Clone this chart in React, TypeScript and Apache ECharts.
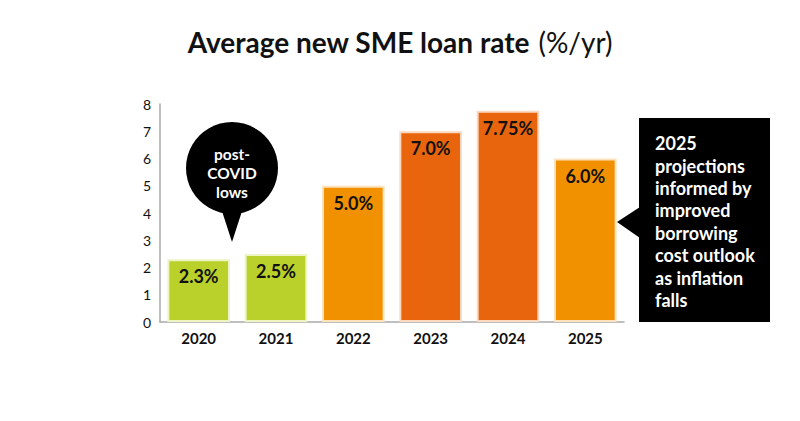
import { useEffect, useRef } from "react";
import * as echarts from "echarts";

const years = ["2020", "2021", "2022", "2023", "2024", "2025"];
const rates = [2.3, 2.5, 5.0, 7.0, 7.75, 6.0];
const rateLabels = ["2.3%", "2.5%", "5.0%", "7.0%", "7.75%", "6.0%"];
const barColors = ["#b9d12a", "#b9d12a", "#f29100", "#e9650d", "#e9650d", "#f29100"];
const borderColors = ["#eef4c4", "#eef4c4", "#fde3bd", "#fbd9c0", "#fbd9c0", "#fde3bd"];
const bubbleLines = ["post-", "COVID", "lows"];
const calloutLines = [
  "2025",
  "projections",
  "informed by",
  "improved",
  "borrowing",
  "cost outlook",
  "as inflation",
  "falls",
];

const FONT = "Lato, 'Open Sans', sans-serif";

export default function App() {
  const ref = useRef<HTMLDivElement>(null);

  useEffect(() => {
    if (!ref.current) return;
    const chart = echarts.init(ref.current, null, { renderer: "svg" });

    chart.setOption({
      animation: false,
      textStyle: { fontFamily: FONT },
      title: {
        text: "{b|Average new SME loan rate}  {r|(%/yr)}",
        left: "center",
        top: 28,
        padding: 0,
        textStyle: {
          rich: {
            b: { fontSize: 28, fontWeight: "bold", color: "#111", fontFamily: FONT },
            r: { fontSize: 28, fontWeight: "normal", color: "#111", fontFamily: FONT },
          },
        },
      },
      grid: { left: 160, right: 176, top: 104, bottom: 99 },
      xAxis: {
        type: "category",
        data: years,
        axisLine: { lineStyle: { color: "#aaa", width: 1.5 } },
        axisTick: { show: false },
        axisLabel: { color: "#111", fontSize: 15, fontWeight: "bold", margin: 8 },
      },
      yAxis: {
        type: "value",
        min: 0,
        max: 8,
        interval: 1,
        axisLine: { show: true, lineStyle: { color: "#aaa", width: 1.5 } },
        axisTick: { show: false },
        splitLine: { show: false },
        axisLabel: { color: "#111", fontSize: 14, margin: 9 },
      },
      series: [
        {
          type: "bar",
          barWidth: "81%",
          data: rates.map((v, i) => ({
            value: v,
            itemStyle: { color: barColors[i], borderColor: borderColors[i], borderWidth: 2 },
            label: { formatter: rateLabels[i] },
          })),
          label: {
            show: true,
            position: "insideTop",
            distance: 8,
            color: "#111",
            fontSize: 18,
            fontWeight: "bold",
            fontFamily: FONT,
          },
        },
      ],
      graphic: [
        {
          type: "circle",
          shape: { cx: 232, cy: 168, r: 46 },
          style: { fill: "#000" },
        },
        {
          type: "polygon",
          shape: { points: [[220, 205], [244, 205], [232, 242]] },
          style: { fill: "#000" },
        },
        {
          type: "text",
          x: 232,
          y: 173,
          style: {
            text: bubbleLines.join("\n"),
            fill: "#fff",
            font: `bold 15.5px ${FONT}`,
            lineHeight: 19,
            align: "center",
            verticalAlign: "middle",
          },
        },
        {
          type: "rect",
          shape: { x: 639, y: 118, width: 131, height: 204 },
          style: { fill: "#000" },
        },
        {
          type: "polygon",
          shape: { points: [[640, 207], [640, 238], [617, 222]] },
          style: { fill: "#000" },
        },
        {
          type: "text",
          x: 655,
          y: 132,
          style: {
            text: calloutLines.join("\n"),
            fill: "#fff",
            font: `bold 18px ${FONT}`,
            lineHeight: 22.4,
            align: "left",
            verticalAlign: "top",
          },
        },
      ],
    });

    return () => chart.dispose();
  }, []);

  return (
    <div
      ref={ref}
      style={{ position: "absolute", left: 0, top: 0, width: 800, height: 421 }}
    />
  );
}
